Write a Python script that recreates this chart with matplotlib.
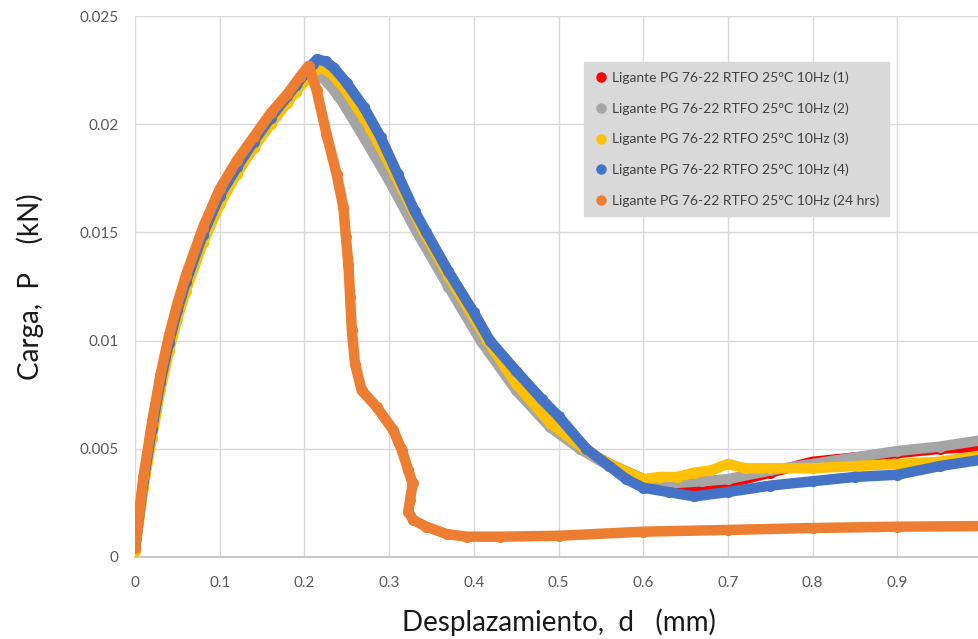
import matplotlib
matplotlib.use("Agg")
import matplotlib.pyplot as plt
from matplotlib.lines import Line2D

plt.rcParams['font.family'] = ['Lato', 'DejaVu Sans']

# --- data (d in mm, P in kN) ---
x_1 = [0, 0.01, 0.02, 0.03, 0.04, 0.05, 0.06, 0.08, 0.10, 0.12, 0.14, 0.16, 0.18, 0.19, 0.20,
       0.21, 0.22, 0.23, 0.24, 0.25, 0.275, 0.30, 0.338, 0.37, 0.413, 0.45, 0.49, 0.528, 0.56,
       0.60, 0.65, 0.70, 0.75, 0.80, 0.85, 0.90, 0.95, 1.0]
y_1 = [0.0004, 0.0034, 0.0058, 0.0080, 0.0098, 0.0113, 0.0126, 0.0148, 0.0166, 0.0179, 0.0191,
       0.0201, 0.0211, 0.0216, 0.0221, 0.0224, 0.0223, 0.0220, 0.0215, 0.0210, 0.0196, 0.0179,
       0.0150, 0.0129, 0.0100, 0.0079, 0.0062, 0.0050, 0.0043, 0.0036, 0.0032, 0.0034, 0.0039,
       0.0044, 0.0046, 0.0048, 0.0050, 0.0051]

x_2 = [0, 0.01, 0.02, 0.03, 0.04, 0.05, 0.06, 0.08, 0.10, 0.12, 0.14, 0.16, 0.18, 0.19, 0.20,
       0.21, 0.22, 0.23, 0.24, 0.25, 0.27, 0.30, 0.333, 0.37, 0.408, 0.45, 0.49, 0.525, 0.56,
       0.60, 0.63, 0.67, 0.70, 0.75, 0.80, 0.85, 0.90, 0.95, 1.0]
y_2 = [0.0004, 0.0034, 0.0058, 0.0080, 0.0098, 0.0113, 0.0126, 0.0148, 0.0166, 0.0179, 0.0191,
       0.0201, 0.0211, 0.0216, 0.0220, 0.0223, 0.0222, 0.0218, 0.0213, 0.0207, 0.0194, 0.0174,
       0.0150, 0.0125, 0.0100, 0.0077, 0.0060, 0.0050, 0.0042, 0.0036, 0.0034, 0.0035, 0.0036,
       0.0040, 0.0043, 0.0046, 0.0049, 0.0051, 0.0054]

x_3 = [0, 0.01, 0.02, 0.03, 0.04, 0.05, 0.06, 0.08, 0.10, 0.12, 0.14, 0.16, 0.18, 0.19, 0.20,
       0.21, 0.22, 0.23, 0.24, 0.25, 0.278, 0.30, 0.341, 0.37, 0.416, 0.45, 0.49, 0.53, 0.56,
       0.60, 0.62, 0.64, 0.66, 0.68, 0.70, 0.72, 0.75, 0.80, 0.85, 0.90, 0.95, 1.0]
y_3 = [0.0003, 0.0032, 0.0055, 0.0077, 0.0095, 0.0110, 0.0123, 0.0145, 0.0163, 0.0177, 0.0189,
       0.0200, 0.0210, 0.0215, 0.0220, 0.0224, 0.0226, 0.0224, 0.0220, 0.0215, 0.0198, 0.0182,
       0.0150, 0.0130, 0.0100, 0.0080, 0.0062, 0.0050, 0.0043, 0.0036, 0.0037, 0.0037, 0.0039,
       0.0040, 0.0043, 0.0041, 0.0041, 0.0041, 0.0042, 0.0043, 0.0044, 0.0047]

x_4 = [0, 0.01, 0.02, 0.03, 0.04, 0.05, 0.06, 0.08, 0.10, 0.12, 0.14, 0.16, 0.18, 0.19, 0.20,
       0.21, 0.215, 0.225, 0.235, 0.25, 0.27, 0.29, 0.31, 0.33, 0.344, 0.37, 0.40, 0.419, 0.45,
       0.48, 0.50, 0.533, 0.56, 0.58, 0.60, 0.63, 0.66, 0.70, 0.75, 0.80, 0.85, 0.90, 0.95, 1.0]
y_4 = [0.0004, 0.0035, 0.0059, 0.0081, 0.0099, 0.0114, 0.0127, 0.0149, 0.0167, 0.0180, 0.0192,
       0.0203, 0.0213, 0.0218, 0.0223, 0.0228, 0.0230, 0.0229, 0.0226, 0.0219, 0.0208, 0.0194,
       0.0177, 0.0160, 0.0150, 0.0132, 0.0113, 0.0100, 0.0086, 0.0073, 0.0065, 0.0050, 0.0042,
       0.0036, 0.0032, 0.0030, 0.0028, 0.0030, 0.0033, 0.0035, 0.0037, 0.0038, 0.0042, 0.0045]

x_24 = [0, 0.01, 0.02, 0.03, 0.04, 0.05, 0.06, 0.08, 0.10, 0.12, 0.14, 0.16, 0.18, 0.195,
        0.205, 0.2145, 0.226, 0.238, 0.246, 0.249, 0.252, 0.254, 0.256, 0.2597, 0.2676, 0.2853,
        0.305, 0.315, 0.3227, 0.3278, 0.3247, 0.3227, 0.3286, 0.344, 0.368, 0.3916, 0.431, 0.50,
        0.60, 0.70, 0.80, 0.90, 1.0]
y_24 = [0.0004, 0.0037, 0.0062, 0.0084, 0.0102, 0.0117, 0.0130, 0.0152, 0.0170, 0.0183, 0.0194,
        0.0205, 0.0214, 0.0222, 0.0227, 0.02156, 0.01956, 0.0177, 0.01617, 0.01479, 0.0135,
        0.0120, 0.01048, 0.00894, 0.0077, 0.00694, 0.00586, 0.00494, 0.0040, 0.0034, 0.00263,
        0.00209, 0.00171, 0.0014, 0.00106, 0.00094, 0.00094, 0.00098, 0.00117, 0.00125,
        0.00134, 0.0014, 0.00143]

labels = ['Ligante PG 76-22 RTFO 25°C 10Hz (1)',
          'Ligante PG 76-22 RTFO 25°C 10Hz (2)',
          'Ligante PG 76-22 RTFO 25°C 10Hz (3)',
          'Ligante PG 76-22 RTFO 25°C 10Hz (4)',
          'Ligante PG 76-22 RTFO 25°C 10Hz (24 hrs)']
colors = ['#ff0000', '#a5a5a5', '#ffc000', '#4472c4', '#ed7d31']

xs = [x_1, x_2, x_3, x_4, x_24]
ys = [y_1, y_2, y_3, y_4, y_24]

fig = plt.figure(figsize=(9.79, 6.39), dpi=100)
ax = fig.add_axes([135 / 979, 82 / 639, 847 / 979, 541 / 639])

for x, y, c in zip(xs, ys, colors):
    ax.plot(x, y, '-o', color=c, lw=7.5, ms=7, solid_capstyle='round',
            solid_joinstyle='round', zorder=3)

ax.set_xlim(0, 1.0)
ax.set_ylim(0, 0.025)
ax.set_xticks([i / 10 for i in range(10)])
ax.set_xticklabels(['0', '0.1', '0.2', '0.3', '0.4', '0.5', '0.6', '0.7', '0.8', '0.9'])
ax.set_yticks([0, 0.005, 0.01, 0.015, 0.02, 0.025])
ax.set_yticklabels(['0', '0.005', '0.01', '0.015', '0.02', '0.025'])
ax.tick_params(length=0, labelsize=11, labelcolor='#595959')
ax.tick_params(axis='x', pad=14)
ax.tick_params(axis='y', pad=12)
ax.grid(True, color='#d9d9d9', lw=1)
ax.set_axisbelow(True)
for s in ['top', 'right']:
    ax.spines[s].set_visible(False)
ax.spines['left'].set_color('#d9d9d9')
ax.spines['bottom'].set_color('#bfbfbf')
ax.spines['bottom'].set_linewidth(1.2)

ax.set_xlabel('Desplazamiento,  d   (mm)', fontsize=20, color='#1a1a1a', labelpad=13)
ax.set_ylabel('Carga,  P    (kN)', fontsize=20, color='#1a1a1a', labelpad=25)

handles = [Line2D([], [], marker='o', ls='', color=c, ms=6.5) for c in colors]
leg = fig.legend(handles, labels, loc='upper left', bbox_to_anchor=(584 / 979, 1 - 62 / 639),
                 fontsize=10, frameon=True, fancybox=False, borderaxespad=0, labelspacing=1.3,
                 handletextpad=0.2, handlelength=1.1, borderpad=0.7)
leg.get_frame().set_facecolor('#d9d9d9')
leg.get_frame().set_edgecolor('#d9d9d9')
leg.get_frame().set_alpha(1)
for t in leg.get_texts():
    t.set_color('#404040')

fig.savefig('out.png', dpi=100)
